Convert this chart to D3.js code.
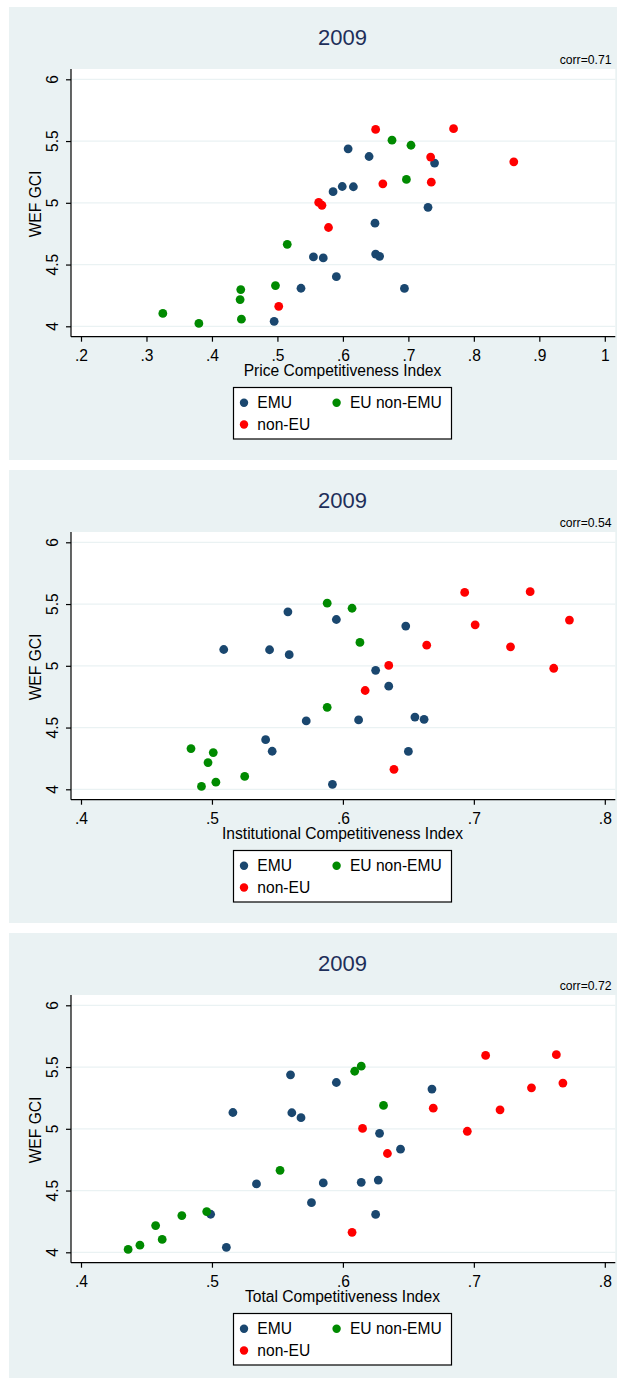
<!DOCTYPE html>
<html>
<head>
<meta charset="utf-8">
<script src="https://cdn.jsdelivr.net/npm/d3@7"></script>
<style>
html,body{margin:0;padding:0;background:#fff;}
svg{display:block;}
text{font-family:"Liberation Sans",Arial,Helvetica,sans-serif;}
</style>
</head>
<body>
<svg id="chart" width="617" height="1378"></svg>
<script>
// ---- data ----
const years = ["2009", "2009", "2009"];
const corrLabels = ["corr=0.71", "corr=0.54", "corr=0.72"];
const xTitles = ["Price Competitiveness Index", "Institutional Competitiveness Index", "Total Competitiveness Index"];
const yTitle = "WEF GCI";
const groupNames = ["EMU", "EU non-EMU", "non-EU"];

const yTicks = [4, 4.5, 5, 5.5, 6];
const yTickLabels = ["4", "4.5", "5", "5.5", "6"];
const xTicksPrice = [0.2, 0.3, 0.4, 0.5, 0.6, 0.7, 0.8, 0.9, 1];
const xTickLabelsPrice = [".2", ".3", ".4", ".5", ".6", ".7", ".8", ".9", "1"];
const xTicksOther = [0.4, 0.5, 0.6, 0.7, 0.8];
const xTickLabelsOther = [".4", ".5", ".6", ".7", ".8"];

// EMU
const emuGci   = [5.437, 5.375, 5.322, 5.132, 5.130, 5.090, 4.963, 4.835, 4.585, 4.567, 4.562, 4.554, 4.402, 4.308, 4.307, 4.040];
const emuPrice = [0.608, 0.640, 0.740, 0.599, 0.616, 0.585, 0.730, 0.649, 0.650, 0.656, 0.555, 0.570, 0.590, 0.536, 0.694, 0.495];
const emuInst  = [0.558, 0.595, 0.648, 0.509, 0.544, 0.559, 0.625, 0.635, 0.655, 0.662, 0.612, 0.572, 0.541, 0.546, 0.650, 0.592];
const emuTotal = [0.560, 0.595, 0.668, 0.516, 0.561, 0.568, 0.628, 0.644, 0.627, 0.614, 0.585, 0.534, 0.576, 0.499, 0.625, 0.511];

// EU non-EMU
const euGci   = [5.507, 5.466, 5.189, 4.664, 4.330, 4.297, 4.216, 4.104, 4.058, 4.023];
const euPrice = [0.675, 0.704, 0.697, 0.515, 0.497, 0.444, 0.443, 0.325, 0.445, 0.380];
const euInst  = [0.588, 0.607, 0.613, 0.588, 0.484, 0.501, 0.497, 0.525, 0.503, 0.492];
const euTotal = [0.614, 0.609, 0.631, 0.552, 0.496, 0.477, 0.457, 0.462, 0.445, 0.436];

// non-EU
const nonGci   = [5.594, 5.600, 5.370, 5.332, 5.167, 5.154, 5.003, 4.980, 4.800, 4.162];
const nonPrice = [0.650, 0.769, 0.734, 0.861, 0.735, 0.661, 0.563, 0.568, 0.578, 0.502];
const nonInst  = [0.693, 0.743, 0.773, 0.701, 0.664, 0.728, 0.635, 0.761, 0.617, 0.639];
const nonTotal = [0.709, 0.763, 0.768, 0.744, 0.669, 0.720, 0.615, 0.695, 0.634, 0.607];

// ---- styles ----
const colors = ["#1a476f", "#008a00", "#ff0000"];
const bgColor = "#eaf2f3";
const titleColor = "#1e2f5a";

const svg = d3.select("#chart");

const panels = [
  {x: [emuPrice, euPrice, nonPrice], domain: [0.2, 1], ticks: xTicksPrice, labels: xTickLabelsPrice},
  {x: [emuInst, euInst, nonInst], domain: [0.4, 0.8], ticks: xTicksOther, labels: xTickLabelsOther},
  {x: [emuTotal, euTotal, nonTotal], domain: [0.4, 0.8], ticks: xTicksOther, labels: xTickLabelsOther}
];
const gcis = [emuGci, euGci, nonGci];

const fs = 15.6;

panels.forEach((p, i) => {
  const g = svg.append("g").attr("transform", `translate(0,${7 + i * 463})`);
  g.append("rect").attr("x", 9).attr("y", 0).attr("width", 620).attr("height", 453).attr("fill", bgColor);

  const plotL = 71, plotR = 615.3, plotT = 62, plotB = 329.7;
  g.append("rect").attr("x", plotL).attr("y", plotT).attr("width", plotR - plotL).attr("height", plotB - plotT).attr("fill", "#fff");

  const x = d3.scaleLinear().domain(p.domain).range([81, 604.8]);
  const y = d3.scaleLinear().domain([4, 6]).range([319.3, 72.3]);

  // grid
  g.append("g").selectAll("line").data(yTicks).join("line")
    .attr("x1", plotL).attr("x2", plotR)
    .attr("y1", d => y(d)).attr("y2", d => y(d))
    .attr("stroke", bgColor).attr("stroke-width", 1.2);

  // title
  g.append("text").attr("x", 342.5).attr("y", 37.5).attr("text-anchor", "middle")
    .attr("font-size", 22).attr("fill", titleColor).text(years[i]);
  g.append("text").attr("x", 611.5).attr("y", 57).attr("text-anchor", "end")
    .attr("font-size", 12.2).attr("fill", "#000").text(corrLabels[i]);

  // y axis (ticks via d3 axis, rotated labels drawn from the same scale)
  const yAxis = d3.axisLeft(y).tickValues(yTicks).tickFormat("").tickSize(5);
  const ya = g.append("g").attr("transform", `translate(${plotL},0)`).call(yAxis);
  ya.select(".domain").attr("d", `M0,${plotT}V${plotB}`).attr("stroke", "#000").attr("stroke-width", 1.2);
  ya.selectAll(".tick line").attr("stroke", "#000").attr("stroke-width", 1.2);
  g.append("g").selectAll("text").data(yTicks).join("text")
    .attr("transform", d => `translate(${plotL - 13.5},${y(d)}) rotate(-90)`)
    .attr("text-anchor", "middle")
    .attr("font-size", fs).attr("fill", "#000")
    .text((d, k) => yTickLabels[k]);

  // x axis
  const xAxis = d3.axisBottom(x).tickValues(p.ticks).tickFormat((d, k) => p.labels[k]).tickSize(5).tickPadding(7);
  const xa = g.append("g").attr("transform", `translate(0,${plotB})`).call(xAxis);
  xa.select(".domain").attr("d", `M${plotL},0H${plotR}`).attr("stroke", "#000").attr("stroke-width", 1.2);
  xa.selectAll(".tick line").attr("stroke", "#000").attr("stroke-width", 1.2);
  xa.selectAll(".tick text").attr("font-size", fs).attr("fill", "#000").attr("dy", null).attr("y", 24.5);
  xa.attr("font-family", null);

  // axis titles
  g.append("text").attr("x", 342.5).attr("y", 369).attr("text-anchor", "middle")
    .attr("font-size", fs).attr("fill", "#000").text(xTitles[i]);
  g.append("text").attr("transform", `translate(40.5,197) rotate(-90)`)
    .attr("text-anchor", "middle").attr("font-size", fs).attr("fill", "#000").text(yTitle);

  // points
  const pts = g.append("g");
  [0, 1, 2].forEach(s => {
    pts.append("g").selectAll("circle").data(gcis[s].map((v, k) => ({v, xv: p.x[s][k]}))).join("circle")
      .attr("cx", d => x(d.xv)).attr("cy", d => y(d.v)).attr("r", 4.4).attr("fill", colors[s]);
  });

  // legend
  const lg = g.append("g");
  lg.append("rect").attr("x", 233.5).attr("y", 380.5).attr("width", 218).attr("height", 51.5)
    .attr("fill", "#fff").attr("stroke", "#000").attr("stroke-width", 1.2);
  const items = [{n: groupNames[0], c: colors[0], dx: 244, dy: 395.7},
                 {n: groupNames[1], c: colors[1], dx: 336.6, dy: 395.7},
                 {n: groupNames[2], c: colors[2], dx: 244, dy: 417.5}];
  items.forEach(it => {
    lg.append("circle").attr("cx", it.dx).attr("cy", it.dy).attr("r", 4.2).attr("fill", it.c);
    lg.append("text").attr("x", it.dx + 13.3).attr("y", it.dy + 5.5).attr("font-size", fs).attr("fill", "#000").text(it.n);
  });
});
</script>
</body>
</html>
